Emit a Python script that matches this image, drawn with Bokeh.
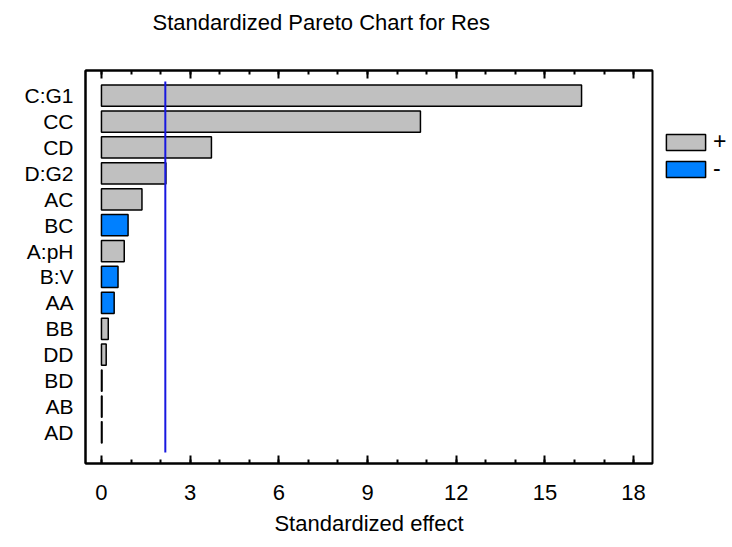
from bokeh.plotting import figure
from bokeh.models import (ColumnDataSource, LinearAxis, SingleIntervalTicker,
                          FixedTicker, Legend, LegendItem, Range1d, Title)
from bokeh.embed import file_html
from bokeh.resources import INLINE

# Effects, ordered from largest to smallest (top to bottom)
terms = ["C:G1", "CC", "CD", "D:G2", "AC", "BC", "A:pH", "B:V",
         "AA", "BB", "DD", "BD", "AB", "AD"]
effects = [16.24, 10.79, 3.72, 2.18, 1.37, 0.90, 0.77, 0.56,
           0.43, 0.23, 0.16, 0.02, 0.02, 0.02]
signs = ["+", "+", "+", "+", "+", "-", "+", "-",
         "-", "+", "+", "+", "+", "+"]
critical_t = 2.16
x_ticks = [0, 3, 6, 9, 12, 15, 18]
title_text = "Standardized Pareto Chart for Res"

FONT = "Liberation Sans"
GRAY = "#C0C0C0"
BLUE = "#0080FF"
INK = "black"

n = len(terms)
ypos = [n - i for i in range(n)]

def subset(sign):
    idx = [i for i, s in enumerate(signs) if s == sign]
    return ColumnDataSource(dict(y=[ypos[i] for i in idx],
                                 v=[effects[i] for i in idx]))

p = figure(width=732, height=547, frame_width=567, frame_height=393,
           min_border_left=85, min_border_right=80,
           min_border_top=70, min_border_bottom=84,
           x_range=Range1d(-0.54, 18.64), y_range=Range1d(-0.2, 14.97),
           output_backend="svg", toolbar_location=None,
           x_axis_location=None, y_axis_location=None)
p.grid.visible = False
p.outline_line_color = INK
p.outline_line_width = 2
p.background_fill_color = "white"
p.border_fill_color = "white"

pos_r = p.hbar(y="y", right="v", left=0, height=0.82, source=subset("+"),
               fill_color=GRAY, line_color=INK, line_width=1.5)
neg_r = p.hbar(y="y", right="v", left=0, height=0.82, source=subset("-"),
               fill_color=BLUE, line_color=INK, line_width=1.5)

# significance reference line
p.segment(x0=[critical_t], x1=[critical_t], y0=[0.22], y1=[14.55],
          line_color="#1818E0", line_width=2)

ticker = SingleIntervalTicker(interval=3, num_minor_ticks=3)

xb = LinearAxis(ticker=ticker, axis_label="Standardized effect")
xt = LinearAxis(ticker=ticker)
for ax in (xb, xt):
    ax.axis_line_width = 2
    ax.axis_line_color = INK
    ax.major_tick_line_color = INK
    ax.minor_tick_line_color = INK
    ax.major_tick_line_width = 2
    ax.minor_tick_line_width = 2
    ax.major_tick_in = 8
    ax.major_tick_out = 0
    ax.minor_tick_in = 4
    ax.minor_tick_out = 0
xb.major_label_text_font = FONT
xb.major_label_text_font_size = "22px"
xb.major_label_text_color = INK
xb.major_label_standoff = 21
xb.axis_label_text_font = FONT
xb.axis_label_text_font_size = "22px"
xb.axis_label_text_color = INK
xb.axis_label_text_font_style = "normal"
xb.axis_label_standoff = 8
# top axis: inward ticks only
xt.major_label_overrides = {t: "" for t in x_ticks}
xt.major_label_standoff = 0
p.add_layout(xb, "below")
p.add_layout(xt, "above")

# invisible spacer axis that lifts the title away from the frame
spacer = LinearAxis(ticker=ticker, axis_line_alpha=0,
                    major_tick_line_alpha=0, minor_tick_line_alpha=0,
                    major_tick_in=0, major_tick_out=29,
                    minor_tick_in=0, minor_tick_out=0,
                    major_label_standoff=0)
spacer.major_label_overrides = {t: "" for t in x_ticks}
p.add_layout(spacer, "above")

ya = LinearAxis(ticker=FixedTicker(ticks=ypos))
ya.major_label_overrides = {y: t for y, t in zip(ypos, terms)}
ya.major_tick_in = 0
ya.major_tick_out = 0
ya.minor_tick_in = 0
ya.minor_tick_out = 0
ya.axis_line_width = 2
ya.axis_line_color = INK
ya.major_label_standoff = 12
ya.major_label_text_font = FONT
ya.major_label_text_font_size = "21px"
ya.major_label_text_color = INK
p.add_layout(ya, "left")

legend = Legend(items=[LegendItem(label="+", renderers=[pos_r]),
                       LegendItem(label="-", renderers=[neg_r])],
                location=(9, 281), padding=0, margin=0, spacing=0,
                glyph_width=49, glyph_height=20, label_height=26,
                label_standoff=3, border_line_alpha=0,
                background_fill_alpha=0, label_text_color=INK,
                label_text_font=FONT, label_text_font_size="23px")
p.add_layout(legend, "right")

p.title = Title(text=title_text, align="left", offset=67,
                text_font=FONT, text_font_size="22px", text_color=INK,
                text_font_style="normal", standoff=14)

open("out.html", "w").write(file_html(p, INLINE))
